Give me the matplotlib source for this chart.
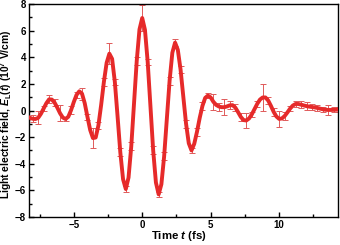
import numpy as np
import matplotlib
matplotlib.use("Agg")
import matplotlib.pyplot as plt
from matplotlib.ticker import MultipleLocator

# time grid of the trace (fs), 0.2 fs step
t_start, t_stop, t_step = -8.4, 14.4, 0.2
field = [-0.45, -0.55, -0.62, -0.64, -0.55, -0.25, 0.15, 0.55, 0.84, 0.82,
         0.59, 0.21, -0.21, -0.53, -0.64, -0.47, 0.02, 0.63, 1.17, 1.44,
         1.27, 0.55, -0.48, -1.47, -2.07, -2.03, -1.12, 0.42, 2.15, 3.58,
         4.27, 3.88, 2.15, -0.45, -3.15, -5.16, -5.9, -5.04, -2.69, 0.52,
         3.74, 6.09, 6.95, 6.06, 3.64, 0.33, -2.99, -5.41, -6.3, -5.54,
         -3.45, -0.6, 2.25, 4.34, 5.1, 4.56, 3.08, 1.05, -0.98, -2.46,
         -3.0, -2.5, -1.6, -0.55, 0.35, 0.95, 1.12, 0.98, 0.65, 0.42,
         0.3, 0.25, 0.25, 0.31, 0.39, 0.40, 0.22, -0.12, -0.48, -0.72,
         -0.75, -0.6, -0.3, 0.1, 0.5, 0.82, 0.98, 0.98, 0.75, 0.35,
         -0.1, -0.45, -0.63, -0.6, -0.42, -0.15, 0.14, 0.37, 0.49, 0.49,
         0.44, 0.38, 0.33, 0.29, 0.26, 0.23, 0.19, 0.14, 0.09, 0.05,
         0.04, 0.04, 0.05, 0.06, 0.07]

# error bars on every second sample (0.4 fs)
field_err = [0.3, 0.25, 0.5, 0.2, 0.3, 0.25, 0.6, 0.15, 0.3, 0.2,
             0.45, 0.25, 0.75, 0.25, 0.3, 0.8, 0.2, 0.3, 0.25, 0.3,
             0.3, 0.95, 0.25, 0.3, 0.2, 0.3, 0.3, 0.25, 0.3, 0.3,
             0.2, 0.3, 0.3, 0.2, 0.6, 0.3, 0.6, 0.3, 0.25, 0.3,
             0.55, 0.2, 0.25, 1.0, 0.25, 0.3, 0.6, 0.3, 0.2, 0.2,
             0.25, 0.3, 0.2, 0.25, 0.2, 0.4, 0.2, 0.2]

t = np.round(np.arange(t_start, t_stop + t_step / 2, t_step), 1)
field = np.array(field)
assert len(t) == len(field)
t_err, v_err = t[::2], field[::2]
assert len(t_err) == len(field_err)

plt.rcParams['font.family'] = ['Liberation Sans', 'DejaVu Sans']
plt.rcParams['font.weight'] = 'bold'
plt.rcParams['mathtext.fontset'] = 'custom'
plt.rcParams['mathtext.rm'] = 'Liberation Sans:bold'
plt.rcParams['mathtext.it'] = 'Liberation Sans:italic:bold'
plt.rcParams['mathtext.bf'] = 'Liberation Sans:bold'

red = "#e62a2a"

fig = plt.figure(figsize=(3.4, 2.45), dpi=100)
ax = fig.add_axes([29 / 340, 1 - 217 / 245, 309 / 340, 213 / 245])

ax.errorbar(t_err, v_err, yerr=field_err, fmt='none', ecolor="#e05a5a",
            elinewidth=0.7, capsize=2.3, capthick=0.7, zorder=2)
ax.plot(t, field, color=red, linewidth=2.8, solid_capstyle='round',
        solid_joinstyle='round', zorder=3)

ax.set_xlim(-8.27, 14.3)
ax.set_ylim(-8, 8)
ax.xaxis.set_major_locator(MultipleLocator(5))
ax.xaxis.set_minor_locator(MultipleLocator(2.5))
ax.yaxis.set_major_locator(MultipleLocator(2))
ax.yaxis.set_minor_locator(MultipleLocator(1))
ax.tick_params(which='both', direction='in', labelsize=7, width=1, pad=2)
ax.tick_params(which='major', length=3.5)
ax.tick_params(which='minor', length=2)
for s in ax.spines.values():
    s.set_linewidth(1.0)

ax.set_xlabel(r'Time $t$ (fs)', fontsize=8.2, fontweight='bold')
ax.xaxis.set_label_coords(0.484, -0.058)
ax.set_ylabel(r'Light electric field, $E_\mathrm{L}(t)$ ($10^{7}$ V/cm)',
              fontsize=7.4, fontweight='bold')
ax.yaxis.set_label_coords(-0.047, 0.484)

fig.savefig("out.png", dpi=100)
